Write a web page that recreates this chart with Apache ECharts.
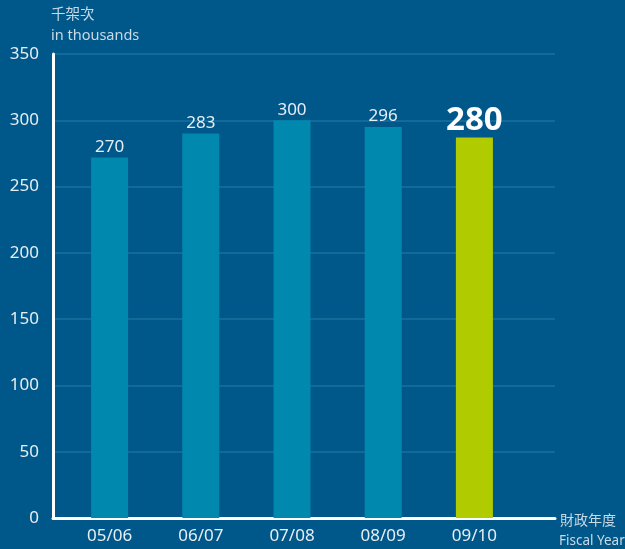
<!DOCTYPE html>
<html>
<head>
<meta charset="utf-8">
<script src="https://cdn.jsdelivr.net/npm/echarts@6/dist/echarts.min.js"></script>
<style>
  html, body { margin: 0; padding: 0; background: #00588a; }
  #chart { width: 625px; height: 549px; }
</style>
</head>
<body>
<div id="chart"></div>
<script>
// 財政年度
const years = ['05/06', '06/07', '07/08', '08/09', '09/10'];
// 柱高（從圖上量出）
const barValues = [272, 290, 300, 295, 287];
// 柱頂標籤
const valueLabels = ['270', '283', '300', '296', '280'];
const yTicks = [0, 50, 100, 150, 200, 250, 300, 350];

const FONT = '"Noto Sans", "Noto Sans CJK TC", sans-serif';
const chart = echarts.init(document.getElementById('chart'));

const option = {
    backgroundColor: '#00588a',
    animation: false,
    grid: [
        { left: 53, right: 70, top: 54, bottom: 31 },
        { left: 64, right: 105, top: 54, bottom: 31 },
    ],
    xAxis: [
        {
            type: 'value',
            gridIndex: 0,
            min: 0,
            max: 1,
            axisLine: { show: true, lineStyle: { color: '#ffffff', width: 3 } },
            axisTick: { show: false },
            axisLabel: { show: false },
            splitLine: { show: false },
        },
        {
            type: 'category',
            gridIndex: 1,
            data: years,
            axisLine: { show: false },
            axisTick: { show: false },
            axisLabel: { color: '#e6eef4', fontSize: 17, margin: 10, fontFamily: FONT },
        },
    ],
    yAxis: [
        {
            type: 'value',
            gridIndex: 0,
            min: yTicks[0],
            max: yTicks[yTicks.length - 1],
            interval: 50,
            axisLine: { show: true, lineStyle: { color: '#ffffff', width: 3 } },
            axisTick: { show: false },
            axisLabel: { color: '#e6eef4', fontSize: 17, margin: 14, fontFamily: FONT },
            splitLine: { lineStyle: { color: '#126a98', width: 2 } },
        },
        {
            type: 'value',
            gridIndex: 1,
            min: yTicks[0],
            max: yTicks[yTicks.length - 1],
            show: false,
        },
    ],
    graphic: [
        { type: 'text', left: 51, top: 8, style: { text: '千架次', fill: '#c9d9e6', font: '14.5px ' + FONT } },
        { type: 'text', left: 51, top: 29, style: { text: 'in thousands', fill: '#c9d9e6', font: '14.5px ' + FONT } },
        { type: 'text', left: 560, top: 514, style: { text: '財政年度', fill: '#c9d9e6', font: '14px ' + FONT } },
        { type: 'text', left: 559, top: 534, style: { text: 'Fiscal Year', fill: '#c9d9e6', font: '13.5px ' + FONT } },
    ],
    series: [
        {
            type: 'bar',
            xAxisIndex: 1,
            yAxisIndex: 1,
            barWidth: 37,
            data: barValues.map((v, i) => ({
                value: v,
                itemStyle: { color: i === barValues.length - 1 ? '#b0cc00' : '#0088ae' },
            })),
            label: {
                show: true,
                position: 'top',
                distance: 2,
                formatter: p => p.dataIndex === barValues.length - 1
                    ? '{big|' + valueLabels[p.dataIndex] + '}'
                    : '{norm|' + valueLabels[p.dataIndex] + '}',
                rich: {
                    norm: { color: '#e6eef4', fontSize: 17, fontFamily: FONT },
                    big: { color: '#ffffff', fontSize: 33, fontWeight: 'bold', fontFamily: FONT, lineHeight: 30 },
                },
            },
        },
    ],
};

chart.setOption(option);
</script>
</body>
</html>
